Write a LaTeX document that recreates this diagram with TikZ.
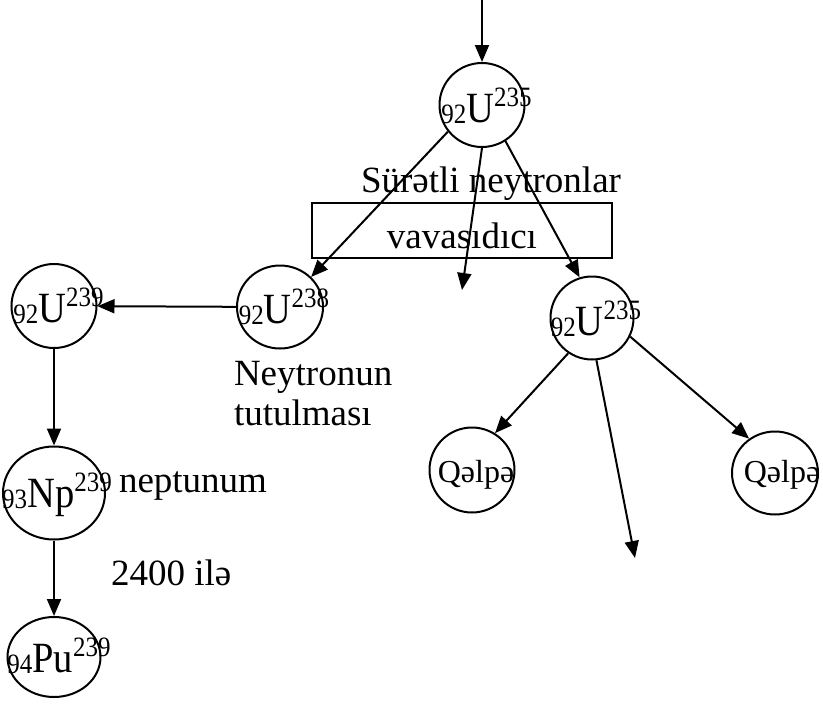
\documentclass[tikz,border=0pt]{standalone}
\usepackage{fontspec}
\setmainfont{Liberation Serif}
\usetikzlibrary{arrows.meta,shapes.geometric}
\newcommand\isotope[3]{\scalebox{1}[1.12]{\fontsize{38.5}{40}\selectfont\raisebox{-1.5pt}{\fontsize{25}{25}\selectfont #1}#2\raisebox{13.5pt}{\fontsize{25}{25}\selectfont #3}}}
\begin{document}
\begin{tikzpicture}[x=1pt,y=-1pt,line width=2pt,
  atom/.style={draw,ellipse,inner sep=0pt},
  big/.style={font=\fontsize{37}{40}\selectfont},
  mid/.style={font=\fontsize{32}{36}\selectfont},
  lab/.style={inner sep=0pt,anchor=base},
  arr/.style={-{Triangle[length=17pt,width=14pt]}}]
\useasboundingbox (0,0) rectangle (823,705);
% atoms
\node[atom,minimum width=85,minimum height=84] (u1) at (482,105) {};
\node[atom,minimum width=86,minimum height=83] (u238) at (280,307) {};
\node[atom,minimum width=85,minimum height=84] (u239) at (54,306) {};
\node[atom,minimum width=102,minimum height=93] (np) at (54,493) {};
\node[atom,minimum width=93,minimum height=80] (pu) at (54,657) {};
\node[atom,minimum width=83,minimum height=83] (u2) at (592,318) {};
\node[atom,minimum width=85,minimum height=85] (q1) at (472,470) {};
\node[atom,minimum width=86,minimum height=83] (q2) at (775,473) {};
% labels in atoms
\node[lab] (tu1) at (486.5,122) {\isotope{92}{U}{235}};
\node[lab] (tu238) at (284,323) {\isotope{92}{U}{238}};
\node[lab] (tu239) at (58.5,322) {\isotope{92}{U}{239}};
\node[lab] (tnp) at (57,507) {\isotope{93}{Np}{239}};
\node[lab] (tpu) at (59,672) {\isotope{94}{Pu}{239}};
\node[lab] (tu2) at (596,335) {\isotope{92}{U}{235}};
\node[mid,lab] (tq1) at (476,482) {Qəlpə};
\node[mid,lab] (tq2) at (782,482) {Qəlpə};
% moderator box
\node[draw,big,minimum width=300,minimum height=55,inner sep=0pt,text height=35pt,text depth=0pt] (mod) at (462,230.5) {vavasıdıcı};
% free texts
\node[big,lab] (fast) at (491,192) {Sürətli neytronlar};
\node[big,inner sep=0pt,anchor=base west,align=left] (capt) at (233,425) {Neytronun\\tutulması};
\node[big,inner sep=0pt,anchor=base west] (nept) at (118,492) {neptunum};
\node[big,inner sep=0pt,anchor=base west] (days) at (110,585) {2400 ilə};
% free ends
\coordinate (top) at (482,0);
\coordinate (e1) at (462,290);
\coordinate (e2) at (635,558);
% arrows
\draw[arr] (top) -- (u1);
\draw[arr] (u1.218) -- (u238.44);
\draw[arr] (u1.270) -- (e1);
\draw[arr] (u1.303) -- (u2.107);
\draw[arr] (u238) -- (u239);
\draw[arr] (u239) -- (np);
\draw[arr] (np) -- (pu);
\draw[arr] (u2.236) -- (q1.58);
\draw[arr] (u2.276) -- (e2);
\draw[arr] (u2.334) -- (q2.127);
\end{tikzpicture}
\end{document}
